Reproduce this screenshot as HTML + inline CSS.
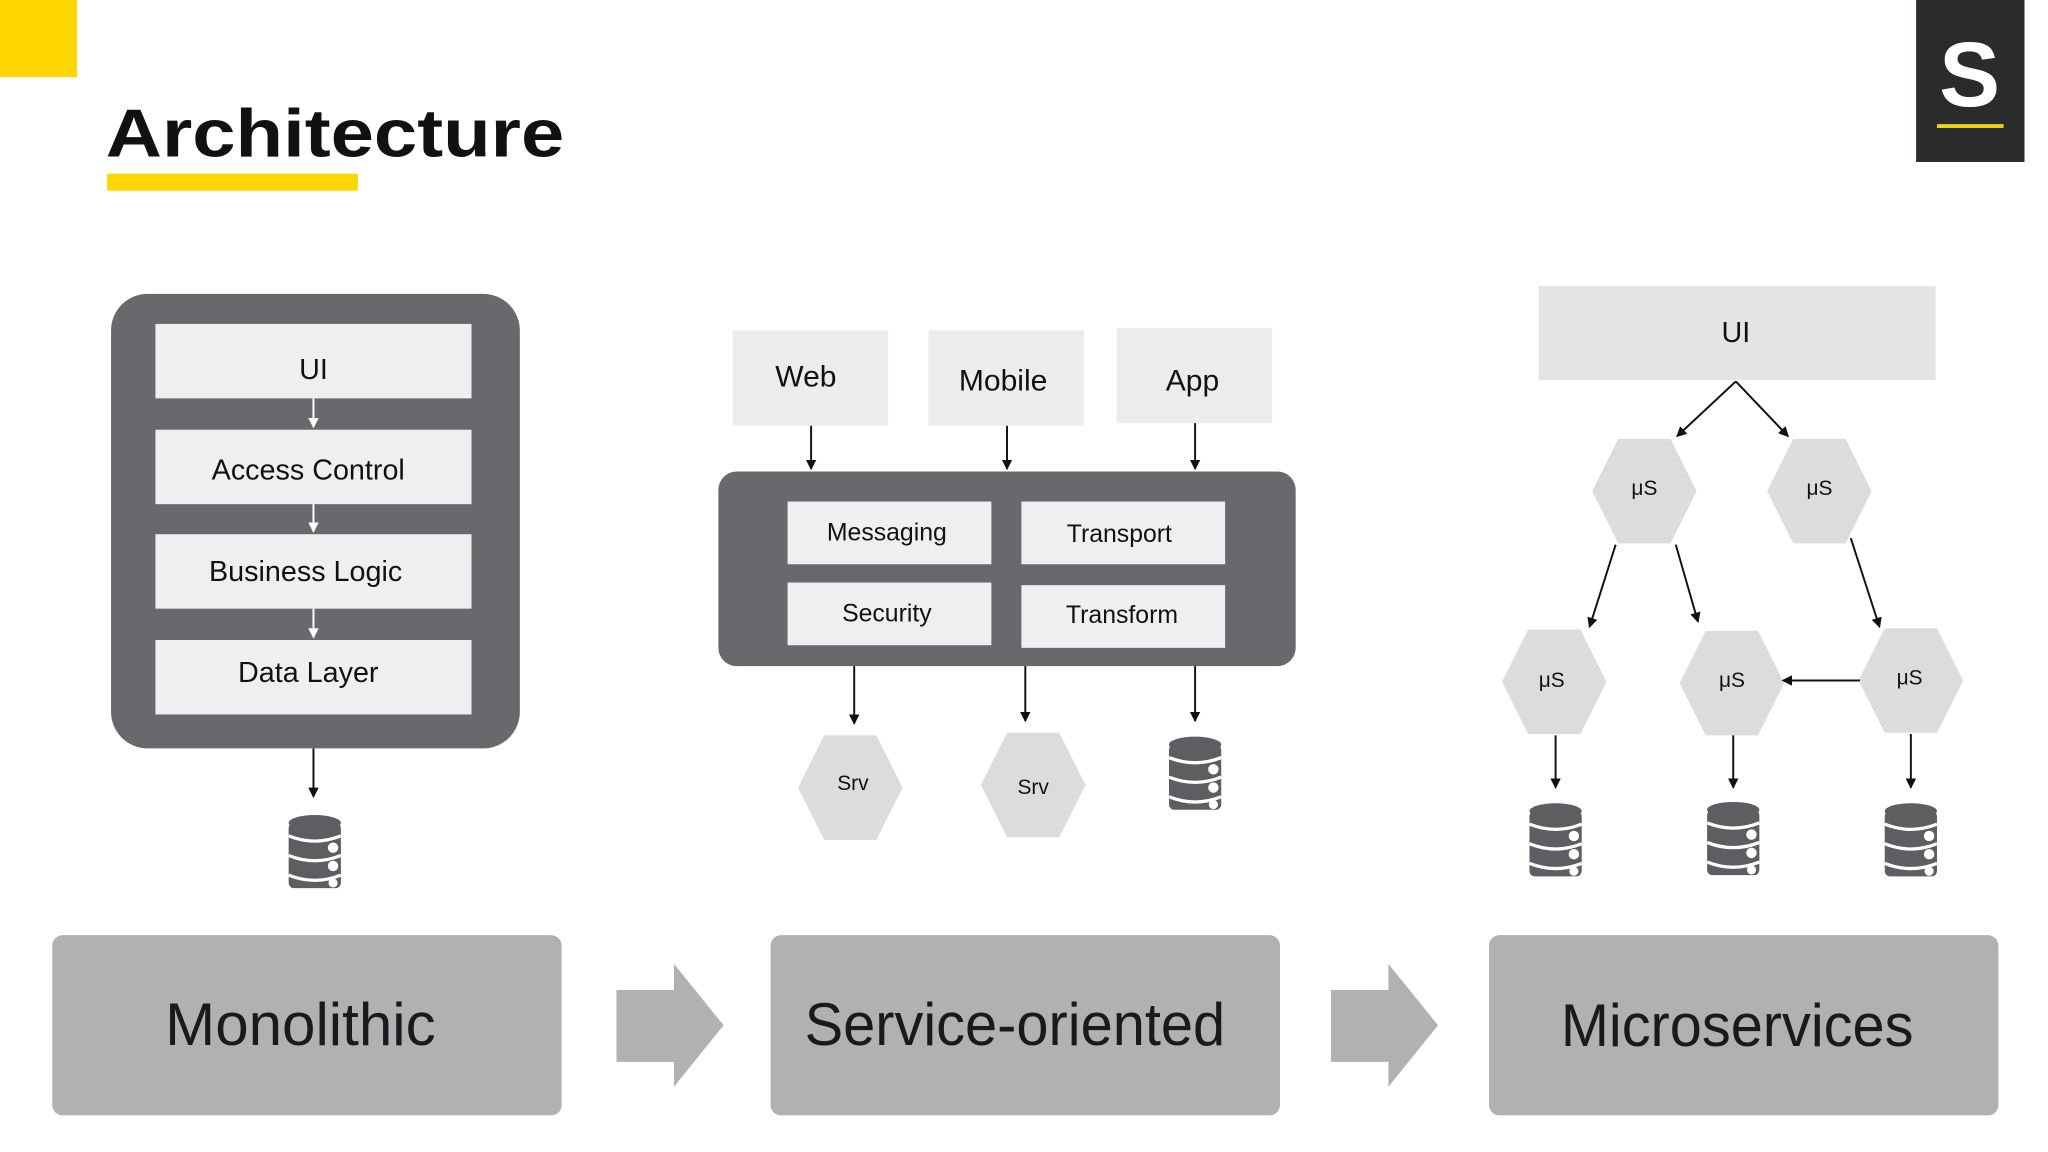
<!DOCTYPE html>
<html><head><meta charset="utf-8"><style>
html,body{margin:0;padding:0;background:#fff;}
svg{display:block;}
text{font-family:"Liberation Sans","DejaVu Sans",sans-serif;}
</style></head><body>
<svg width="2048" height="1152" viewBox="0 0 1568 882" xmlns="http://www.w3.org/2000/svg">
<defs>
<marker id="ah" markerWidth="8" markerHeight="8" refX="7" refY="4" orient="auto" markerUnits="userSpaceOnUse">
<path d="M0,0 L8,4 L0,8 z" fill="#111"/></marker>
<marker id="ahw" markerWidth="8" markerHeight="8" refX="7" refY="4" orient="auto" markerUnits="userSpaceOnUse">
<path d="M0,0 L8,4 L0,8 z" fill="#fff"/></marker>
<g id="db">
<rect x="-20" y="-22" width="40" height="50" rx="4" fill="#5e5e62"/>
<ellipse cx="0" cy="-22" rx="20" ry="6" fill="#5e5e62"/>
<path d="M-20,-12 Q0,-4 20,-12" stroke="#fff" stroke-width="2.5" fill="none"/>
<path d="M-20,3 Q0,11 20,3" stroke="#fff" stroke-width="2.5" fill="none"/>
<path d="M-20,18 Q0,26 20,18" stroke="#fff" stroke-width="2.5" fill="none"/>
<circle cx="14" cy="-3" r="4" fill="#fff"/>
<circle cx="14" cy="11" r="4" fill="#fff"/>
<circle cx="14" cy="24" r="3.5" fill="#fff"/>
</g>
<polygon id="hex" points="-40,0 -20,-40 20,-40 40,0 20,40 -20,40" fill="#dcdcde"/>
</defs>

<rect x="0" y="0" width="59" height="59" fill="#ffd600"/>
<text x="81" y="120" font-size="52" font-weight="bold" fill="#111" textLength="351" lengthAdjust="spacingAndGlyphs">Architecture</text>
<rect x="82" y="133" width="192" height="13" fill="#ffd600"/>
<rect x="1467" y="0" width="83" height="124" fill="#2a2b2d"/>
<text x="1508" y="81" font-size="70" font-weight="bold" fill="#fff" text-anchor="middle">S</text>
<rect x="1483" y="95" width="51" height="3" fill="#e8d21a"/>

<rect x="85" y="225" width="313" height="348" rx="28" fill="#69686c"/>
<rect x="119" y="248" width="242" height="57" fill="#efeff0"/>
<rect x="119" y="329" width="242" height="57" fill="#efeff0"/>
<rect x="119" y="409" width="242" height="57" fill="#efeff0"/>
<rect x="119" y="490" width="242" height="57" fill="#efeff0"/>
<g font-size="22" fill="#111" text-anchor="middle">
<text x="240" y="290">UI</text>
<text x="236" y="367">Access Control</text>
<text x="234" y="445">Business Logic</text>
<text x="236" y="522">Data Layer</text>
</g>
<g stroke="#fff" stroke-width="1.5">
<line x1="240" y1="305" x2="240" y2="327" marker-end="url(#ahw)"/>
<line x1="240" y1="386" x2="240" y2="407" marker-end="url(#ahw)"/>
<line x1="240" y1="466" x2="240" y2="488" marker-end="url(#ahw)"/>
</g>
<line x1="240" y1="573" x2="240" y2="610" stroke="#111" stroke-width="1.5" marker-end="url(#ah)"/>
<use href="#db" x="241" y="652"/>

<rect x="561" y="253" width="119" height="73" fill="#ececed"/>
<rect x="711" y="253" width="119" height="73" fill="#ececed"/>
<rect x="855" y="251" width="119" height="73" fill="#ececed"/>
<g font-size="23" fill="#111" text-anchor="middle">
<text x="617" y="296">Web</text>
<text x="768" y="299">Mobile</text>
<text x="913" y="299">App</text>
</g>
<g stroke="#111" stroke-width="1.5">
<line x1="621" y1="326" x2="621" y2="359" marker-end="url(#ah)"/>
<line x1="771" y1="326" x2="771" y2="359" marker-end="url(#ah)"/>
<line x1="915" y1="324" x2="915" y2="359" marker-end="url(#ah)"/>
</g>
<rect x="550" y="361" width="442" height="149" rx="14" fill="#69686c"/>
<rect x="603" y="384" width="156" height="48" fill="#efeff0"/>
<rect x="782" y="384" width="156" height="48" fill="#efeff0"/>
<rect x="603" y="446" width="156" height="48" fill="#efeff0"/>
<rect x="782" y="448" width="156" height="48" fill="#efeff0"/>
<g font-size="19" fill="#111" text-anchor="middle">
<text x="679" y="414">Messaging</text>
<text x="857" y="415">Transport</text>
<text x="679" y="476">Security</text>
<text x="859" y="477">Transform</text>
</g>
<g stroke="#111" stroke-width="1.5">
<line x1="654" y1="510" x2="654" y2="554" marker-end="url(#ah)"/>
<line x1="785" y1="510" x2="785" y2="552" marker-end="url(#ah)"/>
<line x1="915" y1="510" x2="915" y2="552" marker-end="url(#ah)"/>
</g>
<use href="#hex" x="651" y="603"/>
<use href="#hex" x="791" y="601"/>
<g font-size="16" fill="#111" text-anchor="middle">
<text x="653" y="605">Srv</text>
<text x="791" y="608">Srv</text>
</g>
<use href="#db" x="915" y="592"/>

<rect x="1178" y="219" width="304" height="72" fill="#e4e4e6"/>
<text x="1329" y="262" font-size="22" fill="#111" text-anchor="middle">UI</text>
<use href="#hex" x="1259" y="376"/>
<use href="#hex" x="1393" y="376"/>
<use href="#hex" x="1190" y="522"/>
<use href="#hex" x="1326" y="523"/>
<use href="#hex" x="1463" y="521"/>
<g font-size="16" fill="#111" text-anchor="middle">
<text x="1259" y="379">μS</text>
<text x="1393" y="379">μS</text>
<text x="1188" y="526">μS</text>
<text x="1326" y="526">μS</text>
<text x="1462" y="524">μS</text>
</g>
<g stroke="#111" stroke-width="1.5">
<line x1="1329" y1="292" x2="1284" y2="334" marker-end="url(#ah)"/>
<line x1="1329" y1="292" x2="1369" y2="334" marker-end="url(#ah)"/>
<line x1="1237" y1="417" x2="1217" y2="480" marker-end="url(#ah)"/>
<line x1="1283" y1="417" x2="1300" y2="476" marker-end="url(#ah)"/>
<line x1="1417" y1="412" x2="1439" y2="480" marker-end="url(#ah)"/>
<line x1="1424" y1="521" x2="1365" y2="521" marker-end="url(#ah)"/>
<line x1="1191" y1="563" x2="1191" y2="603" marker-end="url(#ah)"/>
<line x1="1327" y1="563" x2="1327" y2="603" marker-end="url(#ah)"/>
<line x1="1463" y1="562" x2="1463" y2="603" marker-end="url(#ah)"/>
</g>
<use href="#db" x="1191" y="643"/>
<use href="#db" x="1327" y="642"/>
<use href="#db" x="1463" y="643"/>

<rect x="40" y="716" width="390" height="138" rx="8" fill="#b1b1b3"/>
<rect x="590" y="716" width="390" height="138" rx="8" fill="#b1b1b3"/>
<rect x="1140" y="716" width="390" height="138" rx="8" fill="#b1b1b3"/>
<g font-size="46" fill="#1a1a1a" text-anchor="middle">
<text x="230" y="800">Monolithic</text>
<text x="777" y="800" textLength="322" lengthAdjust="spacingAndGlyphs">Service-oriented</text>
<text x="1330" y="801" textLength="270" lengthAdjust="spacingAndGlyphs">Microservices</text>
</g>
<polygon points="472,758 516,758 516,738 554,785 516,832 516,813 472,813" fill="#b1b1b3"/>
<polygon points="1019,758 1063,758 1063,738 1101,785 1063,832 1063,813 1019,813" fill="#b1b1b3"/>
</svg>
</body></html>
